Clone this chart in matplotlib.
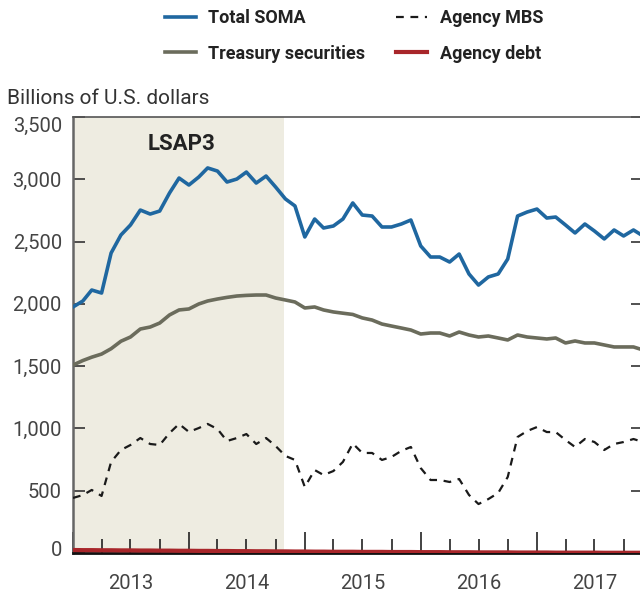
import numpy as np
import matplotlib
matplotlib.use("Agg")
import matplotlib.pyplot as plt
import matplotlib.dates as mdates
import matplotlib.transforms as mtransforms
import pandas as pd

plt.rcParams['font.family'] = ['Roboto', 'DejaVu Sans']

# monthly, Jan 2013 - Dec 2017 (billions of U.S. dollars)
months = pd.date_range("2013-01-01", periods=60, freq="MS")

total_soma = [1975, 2023, 2111, 2087, 2408, 2553, 2633, 2753, 2721, 2745,
              2890, 3010, 2954, 3018, 3091, 3066, 2978, 3002, 3058, 2970,
              3026, 2938, 2842, 2786, 2537, 2681, 2609, 2625, 2681, 2810,
              2713, 2705, 2617, 2617, 2641, 2673, 2465, 2376, 2376, 2336,
              2400, 2240, 2151, 2216, 2240, 2360, 2705, 2737, 2761, 2689,
              2697, 2633, 2569, 2641, 2585, 2521, 2593, 2545, 2593, 2545]

treasury = [1509, 1545, 1572, 1597, 1640, 1700, 1734, 1798, 1814, 1846,
            1911, 1951, 1959, 1999, 2023, 2039, 2052, 2063, 2068, 2071,
            2071, 2047, 2031, 2015, 1967, 1975, 1951, 1935, 1925, 1915,
            1887, 1870, 1838, 1822, 1806, 1790, 1758, 1766, 1766, 1742,
            1774, 1750, 1734, 1742, 1726, 1710, 1750, 1734, 1726, 1718,
            1726, 1686, 1702, 1686, 1686, 1670, 1654, 1654, 1654, 1630]

agency_mbs = [442, 465, 506, 458, 731, 827, 867, 923, 875, 867,
              963, 1036, 972, 1003, 1036, 995, 899, 923, 955, 875,
              923, 859, 779, 747, 530, 666, 626, 658, 731, 879,
              803, 803, 747, 771, 820, 851, 682, 586, 586, 570,
              594, 466, 393, 433, 482, 610, 931, 979, 1011, 971,
              971, 907, 851, 915, 891, 827, 875, 891, 915, 891]

agency_debt = [24, 23, 23, 22, 22, 21, 21, 20, 20, 19,
               19, 18, 18, 17, 17, 16, 16, 15, 15, 14,
               14, 13, 13, 12, 12, 11, 11, 10, 10, 10,
               9, 9, 9, 8, 8, 8, 7, 7, 7, 6,
               6, 6, 5, 5, 5, 5, 4, 4, 4, 4,
               3, 3, 3, 3, 3, 2, 2, 2, 2, 2]

lsap3_start = pd.Timestamp("2013-01-01")
lsap3_end = pd.Timestamp("2014-10-29")

years = [2013, 2014, 2015, 2016, 2017]

fig = plt.figure(figsize=(6.4, 5.95), dpi=100)
ax = fig.add_axes([73/640, 42/595, 570/640, 436/595])

ax.axvspan(lsap3_start, lsap3_end, color="#eeece1", lw=0, zorder=0)
ax.text(pd.Timestamp("2013-12-10"), 3280, "LSAP3", ha="center", va="center",
        fontsize=16, fontweight="bold", color="#222222")

l1, = ax.plot(months, total_soma, color="#1f67a0", lw=2.6, label="Total SOMA", zorder=4)
l2, = ax.plot(months, treasury, color="#6b6c5c", lw=2.6, label="Treasury securities", zorder=4)
l3, = ax.plot(months, agency_mbs, color="#1a1a1a", lw=1.6, ls=(0, (3.5, 3)), label="Agency MBS", zorder=4)
l4, = ax.plot(months, agency_debt, color="#a8262a", lw=3, label="Agency debt", zorder=5)

ax.set_xlim(pd.Timestamp("2013-01-01"), pd.Timestamp("2017-12-01"))
ax.set_ylim(0, 3500)

ax.set_yticks(np.arange(0, 3501, 500))
ax.set_yticklabels(["0", "500", "1,000", "1,500", "2,000", "2,500", "3,000", "3,500"])
ax.tick_params(axis="y", direction="in", length=8.5, width=1.2, color="#333333",
               labelsize=14.5, labelcolor="#444444", right=True, pad=8)
ylabels = ax.get_yticklabels()
ylabels[-1].set_transform(ylabels[-1].get_transform() +
                          mtransforms.ScaledTranslation(0, -7/100, fig.dpi_scale_trans))
ylabels[0].set_transform(ylabels[0].get_transform() +
                         mtransforms.ScaledTranslation(0, 4/100, fig.dpi_scale_trans))

ax.xaxis.set_major_locator(mdates.YearLocator())
ax.xaxis.set_minor_locator(mdates.MonthLocator(bymonth=[4, 7, 10]))
ax.xaxis.set_major_formatter(plt.NullFormatter())
ax.tick_params(axis="x", which="major", direction="in", length=15, width=1.2, color="#222222")
ax.tick_params(axis="x", which="minor", direction="in", length=10, width=1.2, color="#222222")
for y in years:
    ax.text(pd.Timestamp(f"{y}-07-02"), -170, str(y), ha="center", va="top",
            fontsize=14.5, color="#444444", clip_on=False)

ax.spines["left"].set_color("#666666")
ax.spines["left"].set_linewidth(1.8)
ax.spines["top"].set_color("#555555")
ax.spines["top"].set_linewidth(1.2)
ax.spines["right"].set_color("#555555")
ax.spines["bottom"].set_color("#111111")
ax.spines["bottom"].set_linewidth(2)

fig.text(7/640, 1 - 98/595, "Billions of U.S. dollars", ha="left", va="center",
         fontsize=15, color="#333333")

leg = fig.legend(handles=[l1, l2, l3, l4], ncol=2, frameon=False,
                 loc="center", bbox_to_anchor=(354/640, 1 - 36/595),
                 prop={"size": 13, "weight": "bold"}, handlelength=1.7,
                 handletextpad=0.7, columnspacing=1.7, labelspacing=0.95)
for t in leg.get_texts():
    t.set_color("#222222")

fig.savefig("out.png", dpi=100)
